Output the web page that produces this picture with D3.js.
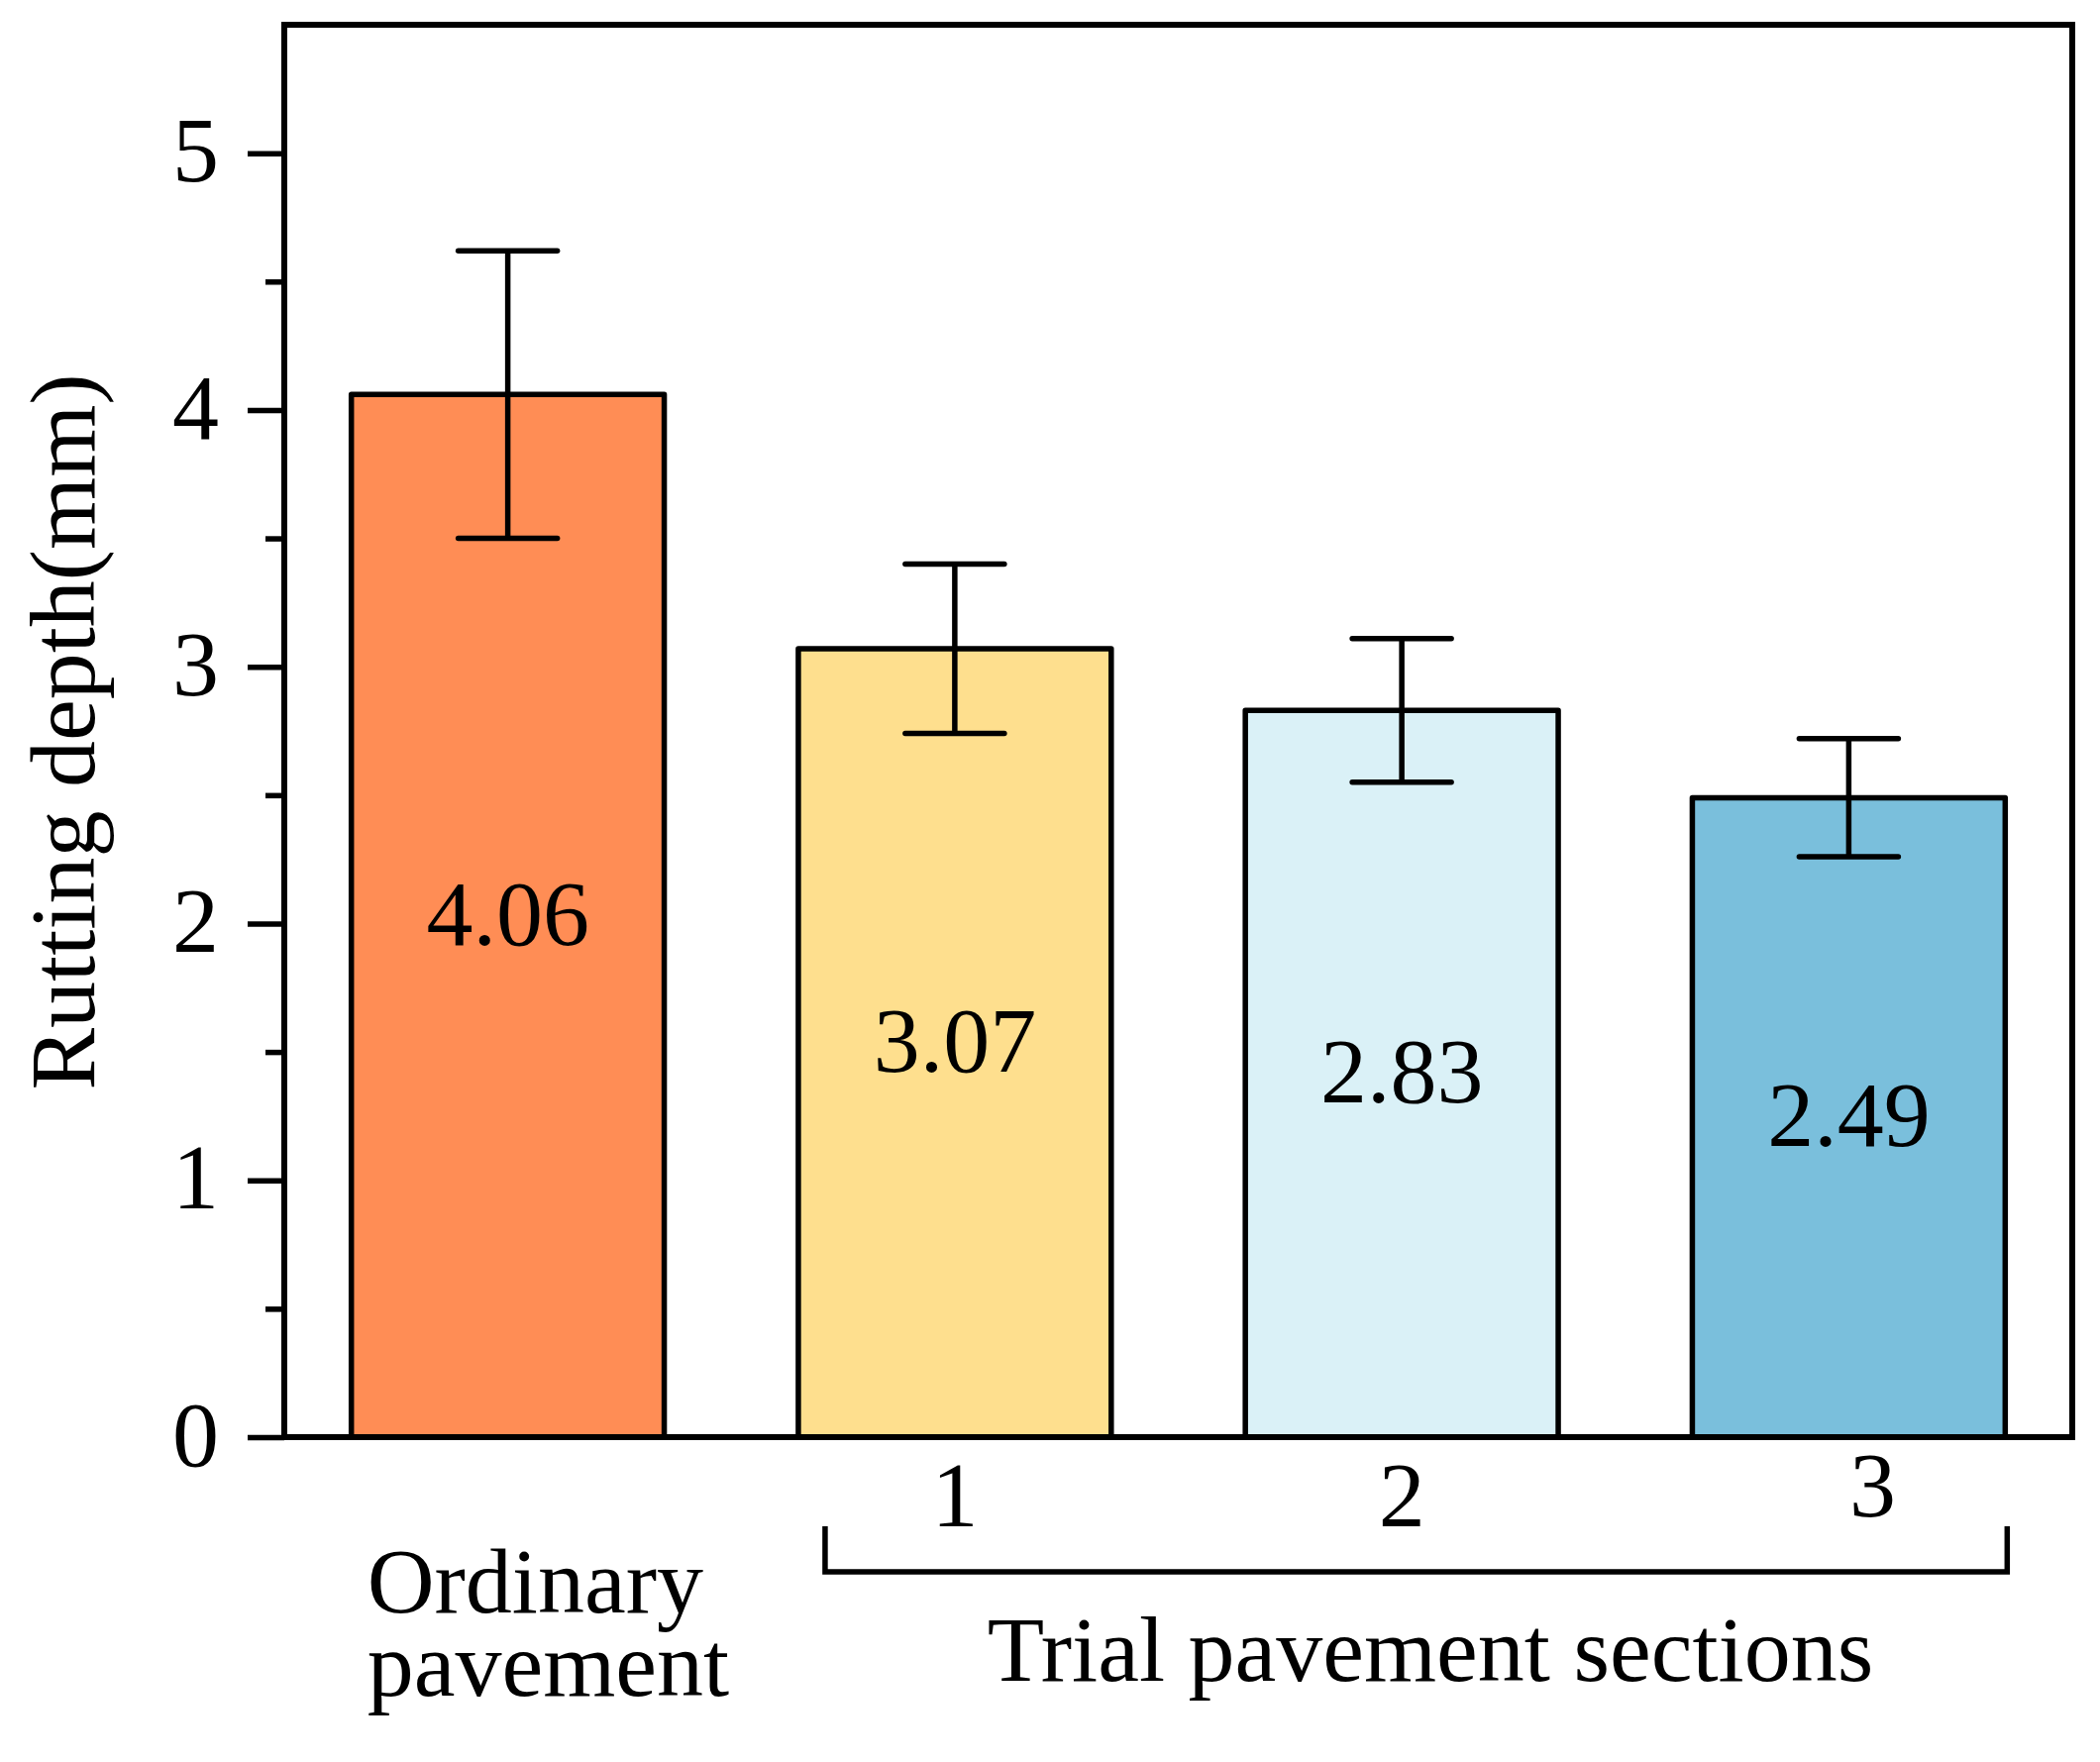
<!DOCTYPE html>
<html>
<head>
<meta charset="utf-8">
<script src="https://cdn.jsdelivr.net/npm/d3@7"></script>
<style>
  html, body { margin: 0; padding: 0; background: #fff; }
  svg { display: block; }
  text { font-family: "Times New Roman", "Liberation Serif", serif; fill: #000; }
</style>
</head>
<body>
<svg id="chart" width="2120" height="1779"></svg>
<script>
// ---- data ----
const categories = ["Ordinary pavement", "1", "2", "3"];
const values = [4.06, 3.07, 2.83, 2.49];
const errors = [0.56, 0.33, 0.28, 0.23];
const valueLabels = ["4.06", "3.07", "2.83", "2.49"];
const yTicks = [0, 1, 2, 3, 4, 5];
const yMinorTicks = [0.5, 1.5, 2.5, 3.5, 4.5];
const firstLabelLines = ["Ordinary", "pavement"];
const groupLabel = "Trial pavement sections";
const yTitle = "Rutting depth(mm)";
const barColors = ["#FF8D55", "#FEDF8E", "#DAF1F7", "#7ABFDC"];

// ---- layout ----
const plotL = 287, plotR = 2092, plotT = 25, plotB = 1451;
const FS = 94;
const SW = 5.5;

const svg = d3.select("#chart");

const x = d3.scaleBand().domain(categories).range([plotL, plotR])
  .paddingInner(0.3).paddingOuter(0.15);
const y = d3.scaleLinear().domain([0, 5.5]).range([plotB, plotT]);

// bars
svg.append("g").selectAll("rect").data(categories).join("rect")
  .attr("x", d => x(d))
  .attr("y", (d, i) => y(values[i]))
  .attr("width", x.bandwidth())
  .attr("height", (d, i) => y(0) - y(values[i]))
  .attr("fill", (d, i) => barColors[i])
  .attr("stroke", "#000")
  .attr("stroke-width", SW)
  .attr("stroke-linejoin", "round");

// value labels centered in bars
svg.append("g").selectAll("text").data(categories).join("text")
  .attr("x", d => x(d) + x.bandwidth() / 2)
  .attr("y", (d, i) => (y(values[i]) + y(0)) / 2)
  .attr("dy", "0.31em")
  .attr("text-anchor", "middle")
  .attr("font-size", FS)
  .text((d, i) => valueLabels[i]);

// error bars
const capW = 100;
const eb = svg.append("g").attr("stroke", "#000").attr("stroke-width", SW);
categories.forEach((c, i) => {
  const cx = x(c) + x.bandwidth() / 2;
  const y1 = y(values[i] + errors[i]), y2 = y(values[i] - errors[i]);
  eb.append("line").attr("x1", cx).attr("x2", cx).attr("y1", y1).attr("y2", y2);
  eb.append("line").attr("x1", cx - capW / 2).attr("x2", cx + capW / 2)
    .attr("y1", y1).attr("y2", y1).attr("stroke-linecap", "round");
  eb.append("line").attr("x1", cx - capW / 2).attr("x2", cx + capW / 2)
    .attr("y1", y2).attr("y2", y2).attr("stroke-linecap", "round");
});

// y axis (major)
const yAxis = svg.append("g").attr("transform", `translate(${plotL},0)`)
  .call(d3.axisLeft(y).tickValues(yTicks).tickSize(37).tickPadding(29).tickFormat(d3.format("d")));
yAxis.select(".domain").remove();
yAxis.selectAll(".tick line").attr("stroke", "#000").attr("stroke-width", SW);
yAxis.selectAll(".tick text").attr("font-size", FS).attr("dy", "0.3em")
  .attr("fill", "#000")
  .attr("font-family", "'Times New Roman', 'Liberation Serif', serif");

// y axis (minor)
const yMinor = svg.append("g").attr("transform", `translate(${plotL},0)`)
  .call(d3.axisLeft(y).tickValues(yMinorTicks).tickSize(19).tickFormat(""));
yMinor.select(".domain").remove();
yMinor.selectAll(".tick line").attr("stroke", "#000").attr("stroke-width", SW);

// frame
svg.append("rect")
  .attr("x", plotL).attr("y", plotT)
  .attr("width", plotR - plotL).attr("height", plotB - plotT)
  .attr("fill", "none").attr("stroke", "#000").attr("stroke-width", 6);

// x tick labels for trial sections
svg.append("g").selectAll("text").data(categories.slice(1)).join("text")
  .attr("x", (d, i) => x(d) + x.bandwidth() / 2 + (i === 2 ? 24 : 0))
  .attr("y", (d, i) => 1541 - (i === 2 ? 10 : 0))
  .attr("text-anchor", "middle")
  .attr("font-size", FS)
  .text(d => d);

// first category label (two lines, left aligned)
const firstLbl = svg.append("text")
  .attr("x", x(categories[0]) + 16)
  .attr("y", 1628)
  .attr("font-size", FS)
  .attr("text-anchor", "start");
firstLabelLines.forEach((t, i) => {
  firstLbl.append("tspan").attr("x", x(categories[0]) + 16)
    .attr("dy", i === 0 ? 0 : 84).text(t);
});

// bracket for trial sections
const bx1 = x(categories[1]) + 27;
const bx2 = x(categories[3]) + x.bandwidth() + 2;
svg.append("path")
  .attr("d", `M${bx1},1541 V1587 H${bx2} V1541`)
  .attr("fill", "none").attr("stroke", "#000").attr("stroke-width", SW);

svg.append("text")
  .attr("x", 1444)
  .attr("y", 1697)
  .attr("text-anchor", "middle")
  .attr("font-size", FS)
  .text(groupLabel);

// y title
svg.append("text")
  .attr("transform", `translate(95,${(plotT + plotB) / 2 + 1}) rotate(-90)`)
  .attr("text-anchor", "middle")
  .attr("font-size", FS)
  .text(yTitle);
</script>
</body>
</html>
